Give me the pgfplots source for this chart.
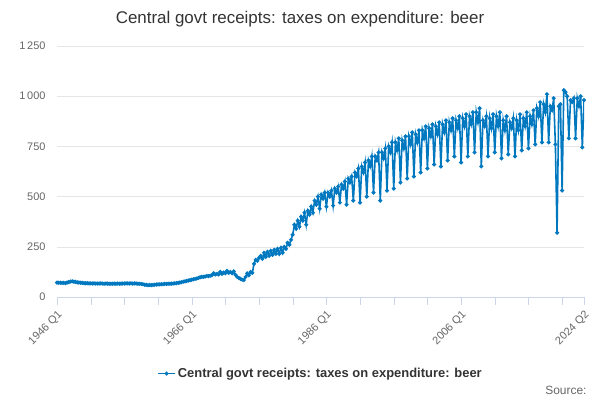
\documentclass[border=0pt]{standalone}
\usepackage{fontspec}
\setmainfont{Liberation Sans}
\usepackage{pgfplots}
\usepackage{pgfplotstable}
\pgfplotsset{compat=1.18}
\definecolor{ser}{RGB}{0,120,192}
\definecolor{grd}{RGB}{230,230,230}
\definecolor{axl}{RGB}{204,214,235}
\definecolor{txt}{RGB}{51,51,51}
\definecolor{lab}{RGB}{102,102,102}
\pgfplotstableread[row sep=\\,header=false]{
72\\71\\71\\70\\ 70\\69\\72\\74\\ 77\\78\\76\\75\\ 73\\72\\71\\70\\
69\\68\\69\\68\\ 68\\67\\68\\67\\ 67\\67\\68\\67\\ 66\\67\\67\\66\\
66\\66\\67\\66\\ 67\\66\\67\\67\\ 67\\68\\68\\67\\ 68\\67\\68\\67\\
66\\66\\65\\64\\ 61\\60\\59\\60\\ 59\\60\\61\\62\\ 63\\63\\64\\64\\
65\\65\\66\\66\\ 67\\67\\68\\69\\ 70\\72\\74\\76\\ 78\\80\\82\\84\\
86\\88\\90\\92\\ 95\\98\\100\\100\\ 102\\105\\104\\106\\ 108\\118\\112\\115\\
112\\125\\115\\122\\ 118\\130\\120\\125\\ 118\\128\\110\\100\\ 95\\90\\86\\84\\
100\\118\\108\\125\\ 120\\165\\185\\180\\ 195\\205\\190\\220\\ 200\\225\\205\\230\\
210\\235\\215\\240\\ 215\\245\\220\\250\\ 240\\270\\260\\285\\ 310\\360\\340\\380\\
350\\400\\380\\420\\ 360\\430\\410\\450\\ 420\\480\\460\\500\\ 440\\510\\490\\520\\
450\\520\\500\\530\\ 455\\540\\520\\550\\ 470\\560\\540\\575\\ 460\\590\\570\\600\\
480\\620\\600\\640\\ 470\\650\\620\\670\\ 500\\680\\650\\700\\ 520\\700\\680\\720\\
480\\720\\690\\740\\ 530\\750\\720\\770\\ 540\\770\\730\\790\\ 570\\780\\740\\800\\
590\\800\\760\\820\\ 600\\810\\770\\830\\ 620\\830\\790\\850\\ 640\\840\\800\\860\\
660\\850\\810\\870\\ 650\\860\\820\\880\\ 680\\870\\830\\890\\ 700\\880\\840\\900\\
670\\890\\850\\910\\ 700\\900\\860\\920\\ 720\\920\\870\\940\\ 650\\880\\850\\900\\
700\\890\\840\\910\\ 720\\900\\850\\920\\ 690\\880\\830\\900\\ 710\\870\\840\\890\\
700\\880\\830\\910\\ 730\\890\\850\\920\\ 740\\900\\860\\930\\ 760\\940\\900\\970\\
770\\960\\920\\1010\\ 770\\950\\930\\990\\ 760\\320\\950\\960\\ 530\\1030\\1020\\1000\\
790\\980\\970\\990\\ 790\\990\\950\\1000\\ 745\\980\\
}\beer
\begin{document}
\begin{tikzpicture}
\path[use as bounding box] (0bp,0bp) rectangle (600bp,400bp);
\node[text=txt,font=\fontsize{17}{20}\selectfont] at (300bp,381bp) {Central govt receipts: taxes on expenditure: beer};
\node[text=lab,font=\fontsize{12}{14}\selectfont,anchor=east] at (590bp,10bp) {Source:};
\begin{axis}[
  at={(57bp,103bp)}, anchor=south west,
  width=527bp, height=251bp, scale only axis,
  xmin=0, xmax=313, ymin=0, ymax=1250,
  axis y line*=left, y axis line style={draw=none},
  axis x line*=bottom, x axis line style={draw=axl},
  ytick={0,250,...,1250},
  yticklabels={0,250,500,750,1\,000,1\,250},
  ymajorgrids, grid style={grd},
  major y tick style={draw=none},
  xtick={0,20,...,300,313},
  xticklabels={1946 Q1,,,,1966 Q1,,,,1986 Q1,,,,2006 Q1,,,,2024 Q2},
  x tick style={draw=axl},
  tick align=outside, major tick length=8bp,
  xtick pos=bottom,
  xticklabel style={rotate=45,anchor=north east,text=lab,font=\fontsize{11}{13}\selectfont},
  yticklabel style={text=lab,font=\fontsize{11}{13}\selectfont},
  /pgf/number format/assume math mode=true,
  legend style={at={(0.5,-0.305)},anchor=center,draw=none,font=\bfseries\fontsize{13}{15}\selectfont,text=txt},
  legend image post style={mark=*},
]
\addplot[ser, line width=1.6pt, mark=*, mark size=1.1pt] table[x expr=\coordindex, y index=0] {\beer};
\addlegendentry{Central govt receipts: taxes on expenditure: beer}
\end{axis}
\end{tikzpicture}
\end{document}
